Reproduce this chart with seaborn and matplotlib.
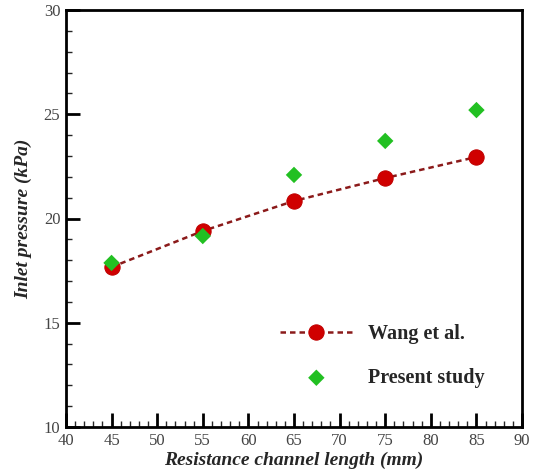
import matplotlib
matplotlib.use("Agg")
import matplotlib.pyplot as plt
import matplotlib.transforms as mtransforms
import seaborn as sns
import pandas as pd
from matplotlib.ticker import MultipleLocator

length = [45, 55, 65, 75, 85]
wang = [17.67, 19.40, 20.84, 21.94, 22.95]
present = [17.87, 19.16, 22.09, 23.72, 25.20]

sns.set_theme(style="white")
plt.rcParams['font.family'] = ['Liberation Serif', 'DejaVu Serif']

fig = plt.figure(figsize=(5.36, 4.75), dpi=100)
ax = fig.add_axes([0.123, 0.101, 0.851, 0.878])

df_w = pd.DataFrame({"x": length, "y": wang})
df_p = pd.DataFrame({"x": length, "y": present})

sns.lineplot(data=df_w, x="x", y="y", ax=ax, color="#8B1A1A", linestyle=(0, (2.2, 1.6)),
             linewidth=1.8, marker="o", markersize=11, markerfacecolor="#D00000",
             markeredgecolor="#C00000", label="Wang et al.")
sns.scatterplot(data=df_p, x="x", y="y", ax=ax, color="#22C022", marker="D", s=70,
                edgecolor="none", label="Present study", zorder=3)

ax.set_xlim(40, 90)
ax.set_ylim(10, 30)
ax.xaxis.set_major_locator(MultipleLocator(5))
ax.xaxis.set_minor_locator(MultipleLocator(1))
ax.yaxis.set_major_locator(MultipleLocator(5))
ax.yaxis.set_minor_locator(MultipleLocator(1))
ax.tick_params(which="major", direction="in", length=10, width=2, labelsize=12,
               colors="black", bottom=True, left=True, top=False, right=False)
ax.tick_params(axis="x", which="major", pad=4)
ax.tick_params(axis="y", which="major", pad=4)
ax.tick_params(which="minor", direction="in", length=4, width=1,
               bottom=True, left=True, top=False, right=False)
fig.canvas.draw()
for lbl in ax.get_xticklabels() + ax.get_yticklabels():
    lbl.set_color("#444444")
# nudge the bottom y label ("10") up slightly so it clears "40"
ylbls = ax.get_yticklabels()
if ylbls:
    ylbls[0].set_transform(ylbls[0].get_transform() +
                           mtransforms.ScaledTranslation(0, 4 / 72, fig.dpi_scale_trans))
for s in ax.spines.values():
    s.set_linewidth(2)
    s.set_color("black")

ax.set_xlabel("Resistance channel length (mm)", fontsize=14, fontweight="bold",
              fontstyle="italic", labelpad=2)
ax.set_ylabel("Inlet pressure (kPa)", fontsize=14, fontweight="bold",
              fontstyle="italic", labelpad=8)

leg = ax.legend(loc="lower right", bbox_to_anchor=(0.957, 0.05), frameon=False,
                prop={"weight": "bold", "size": 14.5}, handlelength=3.6,
                labelspacing=1.2, handletextpad=0.75)

fig.savefig("out.png", dpi=100)
